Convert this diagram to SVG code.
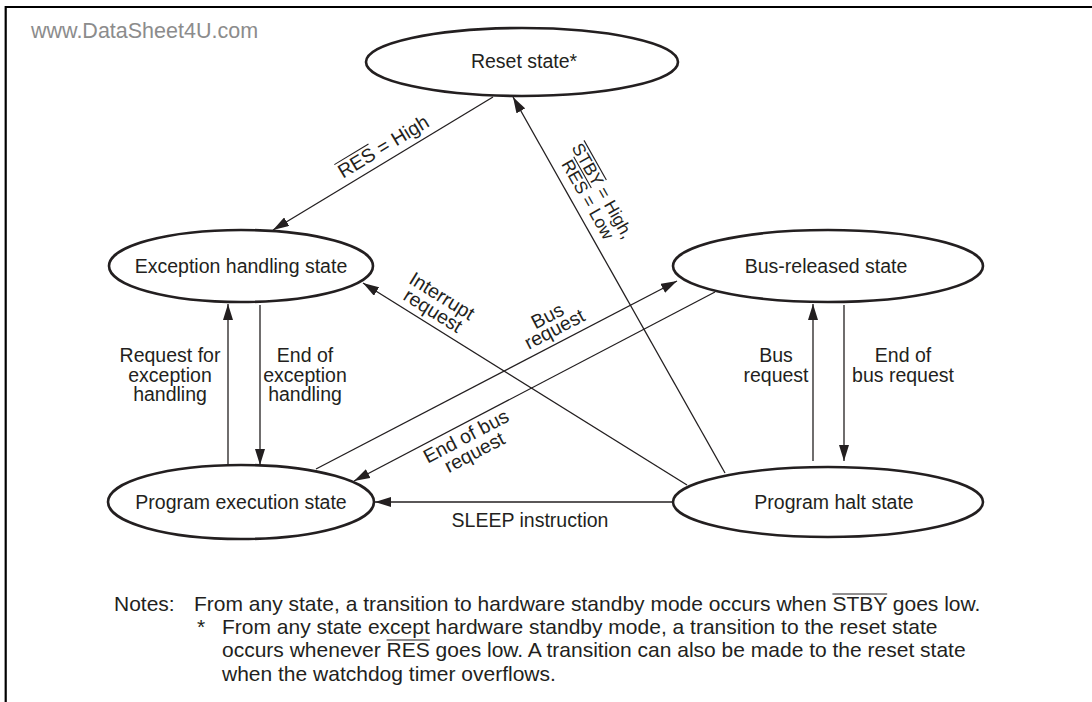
<svg xmlns="http://www.w3.org/2000/svg" width="1092" height="702" viewBox="0 0 1092 702">
<defs>
<style>
.st{fill:#fff;stroke:#231f20;stroke-width:2.6}
.ln{fill:none;stroke:#231f20;stroke-width:1.3}
.ov{fill:none;stroke:#231f20;stroke-width:1.1}
.ar{marker-end:url(#ah)}
text{font-family:"Liberation Sans",Arial,Helvetica,sans-serif;font-size:19.5px;fill:#231f20}
.c{text-anchor:middle}
.sm{font-size:17.5px}
.nt{font-size:21px}
.wm{fill:#8c8c8c;font-size:21.5px}
</style>
<marker id="ah" markerUnits="userSpaceOnUse" markerWidth="16" markerHeight="10" refX="16" refY="5" orient="auto">
<path d="M0,0 L16,5 L0,10 z" fill="#231f20"/>
</marker>
</defs>
<rect width="1092" height="702" fill="#fff"/>
<path d="M5.7,702 V7 H1092" fill="none" stroke="#000" stroke-width="2.2"/>
<text class="wm" x="31" y="38">www.DataSheet4U.com</text>

<g id="connectors">
<line class="ln ar" x1="493" y1="97" x2="273" y2="230"/>
<line class="ln ar" x1="725" y1="473" x2="513" y2="97"/>
<line class="ln ar" x1="687" y1="485" x2="363" y2="283"/>
<line class="ln ar" x1="316" y1="469" x2="677" y2="281"/>
<line class="ln ar" x1="715" y1="292" x2="354" y2="481"/>
<line class="ln ar" x1="673" y1="502" x2="375" y2="502"/>
<line class="ln ar" x1="228" y1="464" x2="228" y2="304"/>
<line class="ln ar" x1="260" y1="305" x2="260" y2="465"/>
<line class="ln ar" x1="813" y1="461" x2="813" y2="304"/>
<line class="ln ar" x1="844" y1="305" x2="844" y2="461"/>
<g transform="translate(386.7,152.2) rotate(-31.2)">
<text x="-51.2" y="0">RES = High</text>
<line class="ov" x1="-51.2" y1="-16.5" x2="-11.3" y2="-16.5"/>
</g>
<g transform="translate(597.5,193.9) rotate(60.6)">
<text class="sm" x="-53.25" y="0">STBY = High,</text>
<line class="ov" x1="-53.25" y1="-14.5" x2="-7.7" y2="-14.5"/>
</g>
<g transform="translate(582.7,202.3) rotate(60.6)">
<text class="sm" x="-44" y="0">RES = Low</text>
<line class="ov" x1="-44" y1="-14.5" x2="-8.2" y2="-14.5"/>
</g>
<text class="c" transform="translate(438.5,301.7) rotate(31.94)">Interrupt</text>
<text class="c" transform="translate(429.5,316.2) rotate(31.94)">request</text>
<text class="c" transform="translate(550.5,321.7) rotate(-27.58)">Bus</text>
<text class="c" transform="translate(557.5,335) rotate(-27.58)">request</text>
<text class="c" transform="translate(469.1,442.1) rotate(-27.64)">End of bus</text>
<text class="c" transform="translate(477.5,458.1) rotate(-27.64)">request</text>
<text class="c" x="170" y="362">Request for</text>
<text class="c" x="170" y="381.5">exception</text>
<text class="c" x="170" y="401">handling</text>
<text class="c" x="305" y="362">End of</text>
<text class="c" x="305" y="381.5">exception</text>
<text class="c" x="305" y="401">handling</text>
<text class="c" x="776" y="362">Bus</text>
<text class="c" x="776" y="381.5">request</text>
<text class="c" x="903" y="362">End of</text>
<text class="c" x="903" y="381.5">bus request</text>
<text class="c" x="530" y="527">SLEEP instruction</text>
</g>

<g id="reset">
<ellipse class="st" cx="522" cy="62" rx="156" ry="34"/>
<text class="c" x="524" y="68">Reset state*</text>
</g>
<g id="exception">
<ellipse class="st" cx="241" cy="266" rx="132" ry="36"/>
<text class="c" x="241" y="273">Exception handling state</text>
</g>
<g id="busreleased">
<ellipse class="st" cx="828" cy="266" rx="155" ry="36"/>
<text class="c" x="826" y="273">Bus-released state</text>
</g>
<g id="progexec">
<ellipse class="st" cx="241" cy="502" rx="133" ry="37"/>
<text class="c" x="241" y="509">Program execution state</text>
</g>
<g id="halt">
<ellipse class="st" cx="828" cy="502" rx="155" ry="35"/>
<text class="c" x="834" y="509">Program halt state</text>
</g>

<g id="notes">
<text class="nt" x="114" y="611">Notes:</text>
<text class="nt" x="194" y="611">From any state, a transition to hardware standby mode occurs when STBY goes low.</text>
<line class="ov" x1="832.4" y1="594" x2="887.2" y2="594"/>
<text class="nt" x="197" y="634">*</text>
<text class="nt" x="222" y="634">From any state except hardware standby mode, a transition to the reset state</text>
<text class="nt" x="222" y="657">occurs whenever RES goes low. A transition can also be made to the reset state</text>
<line class="ov" x1="386.6" y1="640" x2="429.8" y2="640"/>
<text class="nt" x="222" y="681">when the watchdog timer overflows.</text>
</g>
</svg>
